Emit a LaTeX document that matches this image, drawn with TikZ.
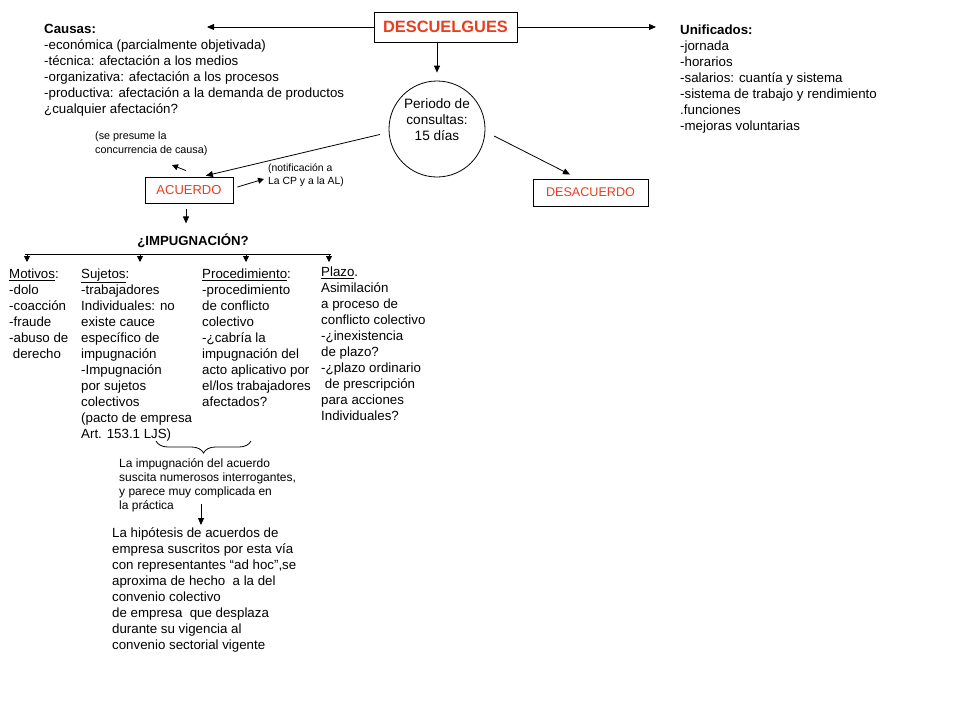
\documentclass[tikz,border=0pt]{standalone}
\usepackage{fontspec}
\setmainfont{Liberation Sans}
\usetikzlibrary{arrows.meta,calc,decorations.pathreplacing}
\definecolor{redc}{RGB}{230,62,30}
\tikzset{
  arr/.style={line width=0.8pt,-{Triangle[length=7pt,width=6pt]}},
  sarr/.style={line width=0.8pt,-{Triangle[length=6pt,width=6pt]}},
  boxn/.style={draw,line width=0.8pt,inner sep=0pt,text=redc},
  txt/.style={anchor=north west,align=left,inner sep=0pt,font=\fontsize{13.3}{16}\selectfont},
  mid/.style={anchor=north west,align=left,inner sep=0pt,font=\fontsize{12}{14}\selectfont},
}
\begin{document}
\begin{tikzpicture}[x=1pt,y=-1pt]
\useasboundingbox (0,0) rectangle (960,720);
% main box
\node[boxn,minimum width=143pt,minimum height=30pt,font=\bfseries\fontsize{16.4}{18}\selectfont] (desc) at (445.5,27) {DESCUELGUES};
% causas
\node[txt] (causas) at (44,24.5) {\textbf{Causas:}\\-económica (parcialmente objetivada)\\-técnica: afectación a los medios\\-organizativa: afectación a los procesos\\-productiva: afectación a la demanda de productos\\¿cualquier afectación?};
\coordinate (causasend) at (207,27);
\draw[arr] (desc.west) -- (causasend);
% unificados
\node[txt] (unif) at (680,24.5) {\textbf{Unificados:}\\-jornada\\-horarios\\-salarios: cuantía y sistema\\-sistema de trabajo y rendimiento\\.funciones\\-mejoras voluntarias};
\coordinate (unifend) at (656,27);
\draw[arr] (desc.east) -- (unifend);
% circle
\node[draw,circle,line width=0.8pt,minimum size=96pt,inner sep=0pt] (circ) at (437,129) {};
\node[align=center,inner sep=0pt,font=\fontsize{13.6}{16}\selectfont] (circt) at (437,120) {Periodo de\\consultas:\\15 días};
\draw[arr,shorten >=8pt] (desc.south -| circ) -- (circ.north);
% desacuerdo
\node[boxn,minimum width=115pt,minimum height=27pt,font=\fontsize{12.6}{15}\selectfont] (desac) at (590.5,192.5) {DESACUERDO};
\draw[arr,shorten <=10pt,shorten >=9pt] (circ.-3) -- ($(desac.north)+(-12.5,0)$);
% acuerdo
\node[boxn,minimum width=88pt,minimum height=26pt,font=\fontsize{13}{15}\selectfont] (acu) at (189,190) {ACUERDO};
\draw[arr,shorten <=9pt,shorten >=4pt] (circ.184) -- ($(acu.north)+(13,0)$);
% se presume
\node[anchor=north west,align=left,inner sep=0pt,font=\fontsize{10.8}{14}\selectfont] (sep) at (95,131) {(se presume la\\concurrencia de causa)};
\coordinate (sepend) at (172,165);
\draw[sarr] ($(acu.north)+(-3,-6)$) -- (sepend);
% notificacion
\node[anchor=north west,align=left,inner sep=0pt,font=\fontsize{10.4}{13}\selectfont] (notif) at (268,163.5) {(notificación a\\La CP y a la AL)};
\coordinate (notifend) at (264,179);
\draw[sarr] ($(acu.east)+(4,-3)$) -- (notifend);
% impugnacion
\node[inner sep=0pt,font=\bfseries\fontsize{13.2}{15}\selectfont] (imp) at (193,241) {¿IMPUGNACIÓN?};
\draw[arr] ($(acu.south)+(-3,6)$) -- ($(acu.south)+(-3,20)$);
% bar
\coordinate (b1) at (25,254);
\coordinate (b4) at (331,254);
\draw[line width=0.8pt] (b1) -- (b4);
\foreach \xx/\nm in {27/m,140/s,246/p,329/z}{
  \coordinate (t\nm) at (\xx,254);
  \draw[sarr] (t\nm) -- ++(0,8);
}
% columns
\node[txt] (mot) at (9,268.5) {\underline{Motivos}:\\-dolo\\-coacción\\-fraude\\-abuso de\\\ derecho};
\node[txt] (suj) at (81,268.5) {\underline{Sujetos}:\\-trabajadores\\Individuales: no\\existe cauce\\específico de\\impugnación\\-Impugnación\\por sujetos\\colectivos\\(pacto de empresa\\Art. 153.1 LJS)};
\node[txt] (proc) at (202,268.5) {\underline{Procedimiento}:\\-procedimiento\\de conflicto\\colectivo\\-¿cabría la\\impugnación del\\acto aplicativo por\\el/los trabajadores\\afectados?};
\node[txt] (plazo) at (321,266.5) {\underline{Plazo}.\\Asimilación\\a proceso de\\conflicto colectivo\\-¿inexistencia\\de plazo?\\-¿plazo ordinario\\\ de prescripción\\para acciones\\Individuales?};
% brace
\coordinate (brl) at (156,441);
\coordinate (brr) at (251,441);
\draw[line width=0.8pt,decorate,decoration={brace,amplitude=12pt,mirror}] (brl) -- (brr);
% note
\node[mid] (note) at (119,458.3) {La impugnación del acuerdo\\suscita numerosos interrogantes,\\y parece muy complicada en\\la práctica};
% final
\node[txt] (fin) at (112,527.5) {La hipótesis de acuerdos de\\empresa suscritos por esta vía\\con representantes “ad hoc”,se\\aproxima de hecho\ \ a la del\\convenio colectivo\\de empresa\ \ que desplaza\\durante su vigencia al\\convenio sectorial vigente};
\draw[arr] (201,504) -- (201,525);
\end{tikzpicture}
\end{document}
